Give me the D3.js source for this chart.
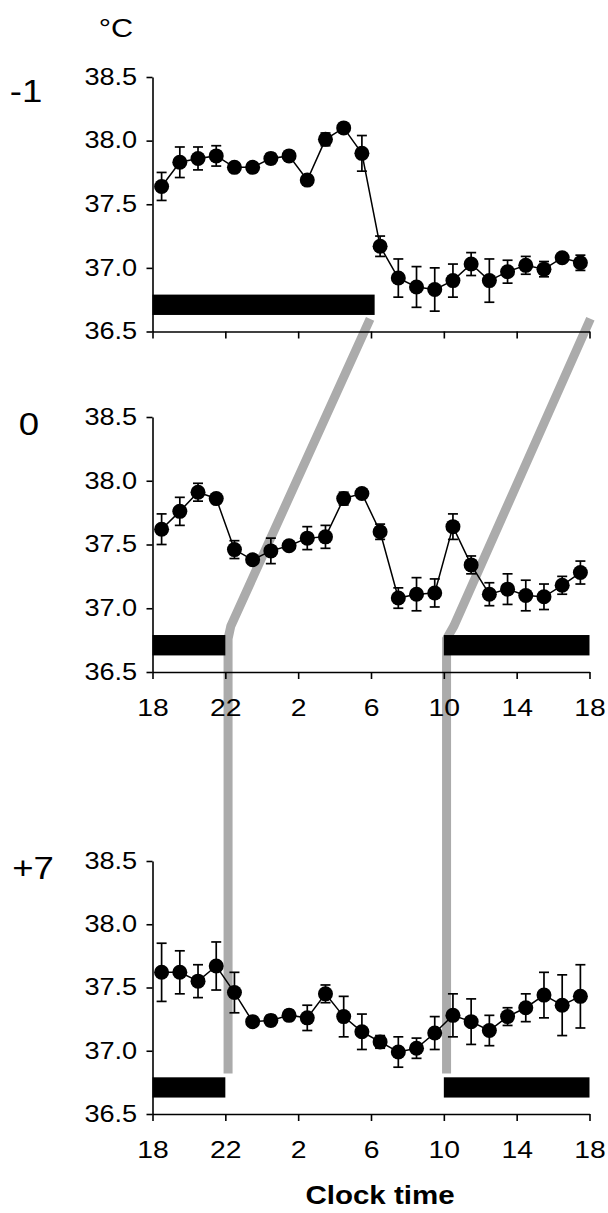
<!DOCTYPE html>
<html>
<head>
<meta charset="utf-8">
<script src="https://cdn.jsdelivr.net/npm/d3@7"></script>
<style>
body { margin: 0; background: #fff; }
svg { display: block; }
text { font-family: "Liberation Sans", Arial, sans-serif; }
</style>
</head>
<body>
<svg width="608" height="1213"></svg>
<script>
// hours after 18:00, one bin per hour
var hours = [0.5, 1.5, 2.5, 3.5, 4.5, 5.5, 6.5, 7.5, 8.5, 9.5, 10.5, 11.5,
             12.5, 13.5, 14.5, 15.5, 16.5, 17.5, 18.5, 19.5, 20.5, 21.5, 22.5, 23.5];
var tickHours = [0, 4, 8, 12, 16, 20, 24];
var tickLabels = ["18", "22", "2", "6", "10", "14", "18"];
var yTicks = [36.5, 37.0, 37.5, 38.0, 38.5];
var dayLabels = ["-1", "0", "+7"];

var tempMinus1 = [37.64, 37.83, 37.86, 37.88, 37.79, 37.79, 37.86, 37.88, 37.69, 38.01, 38.10, 37.90,
                  37.17, 36.92, 36.85, 36.83, 36.90, 37.03, 36.90, 36.97, 37.02, 36.99, 37.08, 37.04];
var errMinus1 = [0.11, 0.12, 0.09, 0.08, 0.03, 0.03, 0.04, 0.03, 0.03, 0.05, 0.02, 0.14,
                 0.08, 0.15, 0.16, 0.17, 0.13, 0.09, 0.17, 0.09, 0.07, 0.06, 0.03, 0.06];

var tempDay0 = [37.62, 37.76, 37.91, 37.86, 37.46, 37.38, 37.45, 37.49, 37.55, 37.56, 37.86, 37.90,
                37.60, 37.08, 37.11, 37.12, 37.64, 37.34, 37.11, 37.15, 37.10, 37.09, 37.18, 37.28];
var errDay0 = [0.12, 0.11, 0.07, 0.03, 0.07, 0.03, 0.10, 0.03, 0.09, 0.09, 0.05, 0.03,
               0.06, 0.08, 0.13, 0.11, 0.10, 0.07, 0.09, 0.12, 0.12, 0.10, 0.07, 0.09];

var tempPlus7 = [37.62, 37.62, 37.55, 37.67, 37.46, 37.23, 37.24, 37.28, 37.26, 37.45, 37.27, 37.15,
                 37.07, 36.99, 37.02, 37.14, 37.28, 37.23, 37.16, 37.27, 37.34, 37.44, 37.36, 37.43];
var errPlus7 = [0.23, 0.17, 0.13, 0.19, 0.16, 0.03, 0.04, 0.04, 0.10, 0.07, 0.16, 0.14,
                0.05, 0.12, 0.08, 0.13, 0.17, 0.18, 0.12, 0.07, 0.11, 0.18, 0.24, 0.25];

// sleep periods (hours after 18:00) and their vertical extent
var sleepMinus1 = [[0, 12.2]];
var sleepDay0 = [[0, 4], [16, 24]];
var sleepPlus7 = [[0, 4], [16, 24]];
var barRange = [36.63, 36.79];

// gray phase-shift guides: [hour, panel index, temperature]
var guideEvening = [[11.95, 0, 36.6], [4.3, 1, 36.86], [4.15, 1, 36.76], [4.15, 2, 36.82]];
var guideMorning = [[24.05, 0, 36.6], [16.55, 1, 36.86], [16.15, 1, 36.76], [16.15, 2, 36.82]];

var svg = d3.select("svg");
var stretch = "scale(1.18,1)"; // lettering in the scan is a bit wide

var x = d3.scaleLinear().domain([0, 24]).range([152.5, 589.5]);

var panels = [
    {top: 77, bottom: 331.5, temp: tempMinus1, err: errMinus1, sleep: sleepMinus1, labels: false, lx: 26, ly: 91},
    {top: 417, bottom: 672, temp: tempDay0, err: errDay0, sleep: sleepDay0, labels: true, lx: 29, ly: 424},
    {top: 861, bottom: 1114, temp: tempPlus7, err: errPlus7, sleep: sleepPlus7, labels: true, lx: 33, ly: 868}
];
panels.forEach(function(p) {
    p.y = d3.scaleLinear().domain([36.5, 38.5]).range([p.bottom, p.top]);
});

// guides go behind everything
var guideLine = d3.line()
    .x(function(d) { return x(d[0]); })
    .y(function(d) { return panels[d[1]].y(d[2]); });

[guideEvening, guideMorning].forEach(function(g) {
    svg.append("path")
        .attr("d", guideLine(g))
        .attr("fill", "none")
        .attr("stroke", "#ababab")
        .attr("stroke-width", 9);
});

panels.forEach(function(p, i) {
    var g = svg.append("g");

    g.append("g")
        .attr("class", "yaxis")
        .attr("transform", "translate(" + x(0) + ",0)")
        .call(d3.axisLeft(p.y).tickValues(yTicks).tickFormat(d3.format(".1f")).tickSize(6).tickSizeOuter(0).tickPadding(7));

    g.append("g")
        .attr("class", "xaxis")
        .attr("transform", "translate(0," + p.bottom + ")")
        .call(d3.axisBottom(x).tickValues(tickHours).tickSize(7).tickSizeOuter(0).tickPadding(20)
            .tickFormat(function(d, k) { return p.labels ? tickLabels[k] : ""; }));

    g.selectAll(".domain, .tick line").attr("stroke", "#000").attr("stroke-width", 1.6);
    g.selectAll(".tick text")
        .attr("fill", "#000")
        .attr("font-family", "Liberation Sans, Arial, sans-serif")
        .attr("transform", stretch);
    g.selectAll(".yaxis .tick text").attr("font-size", 23);
    g.selectAll(".xaxis .tick text").attr("font-size", 24);

    // sleep bars
    g.selectAll("rect.sleep")
        .data(p.sleep)
        .enter().append("rect")
        .attr("class", "sleep")
        .attr("x", function(d) { return x(d[0]); })
        .attr("width", function(d) { return x(d[1]) - x(d[0]); })
        .attr("y", p.y(barRange[1]))
        .attr("height", p.y(barRange[0]) - p.y(barRange[1]))
        .attr("fill", "#000");

    var pts = hours.map(function(h, k) { return {h: h, t: p.temp[k], e: p.err[k]}; });

    g.append("path")
        .datum(pts)
        .attr("d", d3.line().x(function(d) { return x(d.h); }).y(function(d) { return p.y(d.t); }))
        .attr("fill", "none")
        .attr("stroke", "#000")
        .attr("stroke-width", 1.5);

    var eb = g.selectAll("g.err")
        .data(pts)
        .enter().append("g")
        .attr("class", "err")
        .attr("stroke", "#000")
        .attr("stroke-width", 1.7);
    eb.append("line")
        .attr("x1", function(d) { return x(d.h); })
        .attr("x2", function(d) { return x(d.h); })
        .attr("y1", function(d) { return p.y(d.t - d.e); })
        .attr("y2", function(d) { return p.y(d.t + d.e); });
    eb.append("line")
        .attr("x1", function(d) { return x(d.h) - 5; })
        .attr("x2", function(d) { return x(d.h) + 5; })
        .attr("y1", function(d) { return p.y(d.t + d.e); })
        .attr("y2", function(d) { return p.y(d.t + d.e); });
    eb.append("line")
        .attr("x1", function(d) { return x(d.h) - 5; })
        .attr("x2", function(d) { return x(d.h) + 5; })
        .attr("y1", function(d) { return p.y(d.t - d.e); })
        .attr("y2", function(d) { return p.y(d.t - d.e); });

    g.selectAll("circle")
        .data(pts)
        .enter().append("circle")
        .attr("cx", function(d) { return x(d.h); })
        .attr("cy", function(d) { return p.y(d.t); })
        .attr("r", 7.5)
        .attr("fill", "#000");

    svg.append("text")
        .attr("transform", "translate(" + p.lx + "," + p.ly + ") " + stretch)
        .attr("text-anchor", "middle")
        .attr("dy", "0.36em")
        .attr("font-size", 31)
        .text(dayLabels[i]);
});

svg.append("text")
    .attr("transform", "translate(116,37) " + stretch)
    .attr("text-anchor", "middle")
    .attr("font-size", 26)
    .text("°C");

svg.append("text")
    .attr("transform", "translate(380,1204) " + stretch)
    .attr("text-anchor", "middle")
    .attr("font-size", 25)
    .attr("font-weight", "bold")
    .text("Clock time");
</script>
</body>
</html>
